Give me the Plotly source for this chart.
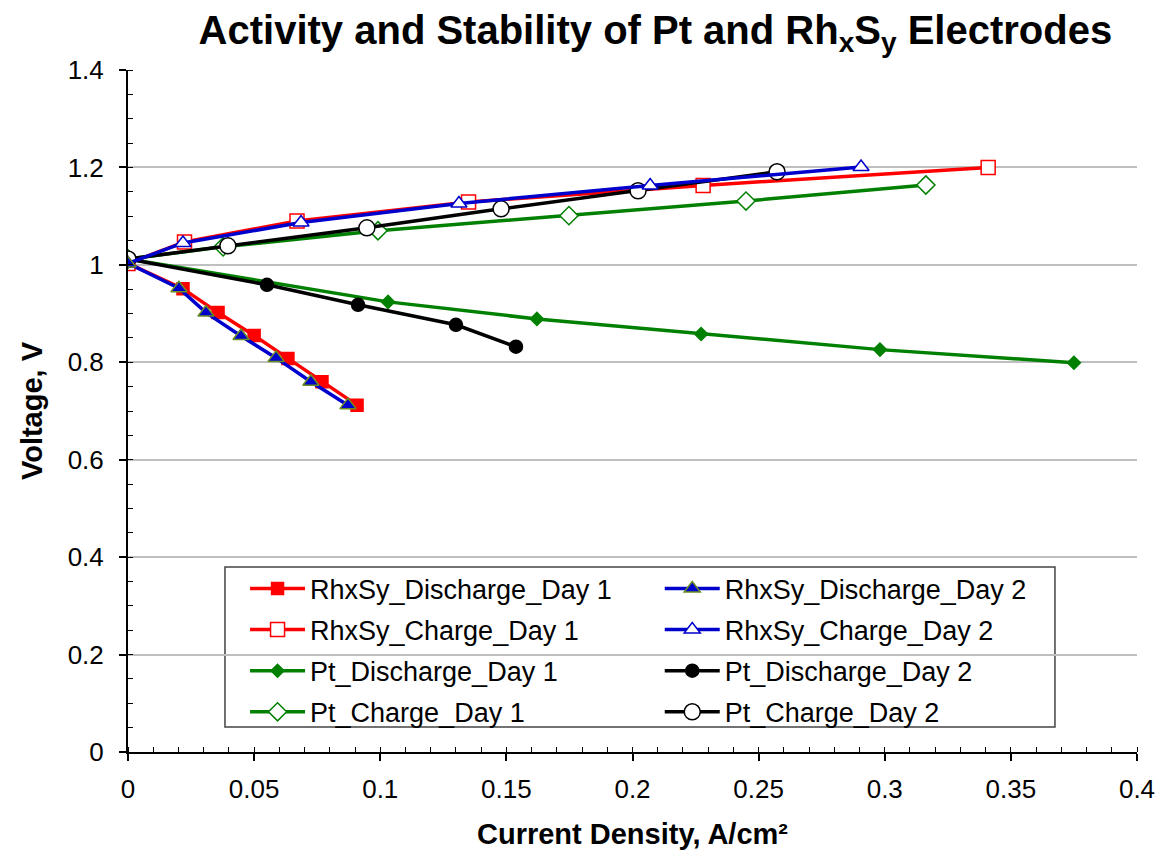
import plotly.graph_objects as go

# Polarisation data: current density (A/cm²) and cell voltage (V)
rh_dis_d1_x = [0.0, 0.0218, 0.0357, 0.0500, 0.0634, 0.0769, 0.0908]
rh_dis_d1_y = [1.003, 0.951, 0.902, 0.855, 0.808, 0.760, 0.712]

rh_dis_d2_x = [0.0, 0.0202, 0.0309, 0.0448, 0.0587, 0.0725, 0.0872]
rh_dis_d2_y = [1.003, 0.952, 0.902, 0.854, 0.809, 0.760, 0.712]

rh_chg_d1_x = [0.0, 0.0224, 0.0670, 0.1350, 0.2280, 0.3410]
rh_chg_d1_y = [1.003, 1.047, 1.090, 1.129, 1.163, 1.200]

rh_chg_d2_x = [0.0, 0.0218, 0.0686, 0.1312, 0.2070, 0.2906]
rh_chg_d2_y = [1.003, 1.045, 1.087, 1.126, 1.163, 1.201]

pt_dis_d1_x = [0.0, 0.1031, 0.1621, 0.2272, 0.2981, 0.3750]
pt_dis_d1_y = [1.012, 0.924, 0.889, 0.858, 0.826, 0.799]

pt_dis_d2_x = [0.0, 0.0551, 0.0912, 0.1300, 0.1538]
pt_dis_d2_y = [1.012, 0.959, 0.918, 0.877, 0.832]

pt_chg_d1_x = [0.0, 0.0377, 0.0991, 0.1748, 0.2450, 0.3163]
pt_chg_d1_y = [1.012, 1.037, 1.070, 1.101, 1.131, 1.164]

pt_chg_d2_x = [0.0, 0.0396, 0.0947, 0.1479, 0.2022, 0.2573]
pt_chg_d2_y = [1.012, 1.039, 1.076, 1.115, 1.152, 1.191]

RED = "#ff0000"
BLUE = "#0000cc"
GREEN = "#008000"
BLACK = "#000000"
OLIVE = "#6b8e23"
FONT = "Liberation Sans, Arial, sans-serif"

# name, x, y, colour, symbol, fill, size, legend column, row
series = [
    ("RhxSy_Discharge_Day 1", rh_dis_d1_x, rh_dis_d1_y, RED, "square", RED, 12, "legend", 1),
    ("RhxSy_Charge_Day 1", rh_chg_d1_x, rh_chg_d1_y, RED, "square", "white", 14, "legend", 2),
    ("Pt_Discharge_Day 1", pt_dis_d1_x, pt_dis_d1_y, GREEN, "diamond", GREEN, 10, "legend", 3),
    ("Pt_Charge_Day 1", pt_chg_d1_x, pt_chg_d1_y, GREEN, "diamond", "white", 14, "legend", 4),
    ("Pt_Discharge_Day 2", pt_dis_d2_x, pt_dis_d2_y, BLACK, "circle", BLACK, 13, "legend2", 3),
    ("Pt_Charge_Day 2", pt_chg_d2_x, pt_chg_d2_y, BLACK, "circle", "white", 16, "legend2", 4),
    ("RhxSy_Charge_Day 2", rh_chg_d2_x, rh_chg_d2_y, BLUE, "triangle-up", "white", 14, "legend2", 2),
    ("RhxSy_Discharge_Day 2", rh_dis_d2_x, rh_dis_d2_y, BLUE, "triangle-up", BLUE, 14, "legend2", 1),
]

fig = go.Figure()
for name, xs, ys, col, sym, fill, size, leg, row in series:
    edge = col
    if sym == "triangle-up" and fill != "white":
        edge = OLIVE
    fig.add_trace(go.Scatter(
        x=xs, y=ys, name=name, mode="lines+markers",
        line=dict(color=col, width=3.5),
        marker=dict(symbol=sym, size=size, color=fill,
                    line=dict(color=edge, width=1.5)),
        legend=leg, legendgroup=name, legendrank=row,
    ))

legend_style = dict(
    font=dict(family=FONT, size=27, color="black"),
    bgcolor="rgba(0,0,0,0)", borderwidth=0, orientation="v",
    xanchor="left", yanchor="top", tracegroupgap=3, itemwidth=55,
    traceorder="grouped",
)

fig.update_layout(
    width=1160, height=850,
    margin=dict(l=128, r=23, t=70, b=98),
    paper_bgcolor="white", plot_bgcolor="white",
    title=dict(
        text="Activity and Stability of Pt and Rh<sub>x</sub>S<sub>y</sub> Electrodes",
        font=dict(family=FONT, size=40, color="black", weight="bold"),
        x=0.565, xanchor="center", y=0.965, yanchor="middle",
    ),
    xaxis=dict(
        range=[0, 0.4], dtick=0.05, tick0=0, automargin=False,
        showgrid=False, zeroline=False,
        showline=True, linecolor="black", linewidth=2,
        ticks="outside", ticklen=7, tickwidth=1.5, tickcolor="black",
        minor=dict(dtick=0.01, ticks="inside", ticklen=5, tickcolor="black",
                   tickwidth=1, showgrid=False),
        tickfont=dict(family=FONT, size=26, color="black"),
        ticklabelstandoff=6,
        title=dict(text="Current Density, A/cm²", standoff=24,
                   font=dict(family=FONT, size=29, color="black", weight="bold")),
    ),
    yaxis=dict(
        range=[0, 1.4], dtick=0.2, tick0=0, automargin=False,
        showgrid=True, gridcolor="#bfbfbf", gridwidth=2, zeroline=False,
        showline=True, linecolor="black", linewidth=2,
        ticks="outside", ticklen=7, tickwidth=1.5, tickcolor="black",
        minor=dict(dtick=0.05, ticks="inside", ticklen=5, tickcolor="black",
                   tickwidth=1, showgrid=False),
        tickfont=dict(family=FONT, size=26, color="black"),
        ticklabelstandoff=10,
        title=dict(text="Voltage, V", standoff=16,
                   font=dict(family=FONT, size=29, color="black", weight="bold")),
    ),
    legend=dict(x=0.116, y=0.275, **legend_style),
    legend2=dict(x=0.527, y=0.275, **legend_style),
    shapes=[dict(type="rect", xref="paper", yref="paper",
                 x0=0.0961, x1=0.9187, y0=0.0367, y1=0.2713,
                 line=dict(color="#444444", width=1.5), fillcolor="white",
                 layer="below")],
)

fig.write_html("out.html")
